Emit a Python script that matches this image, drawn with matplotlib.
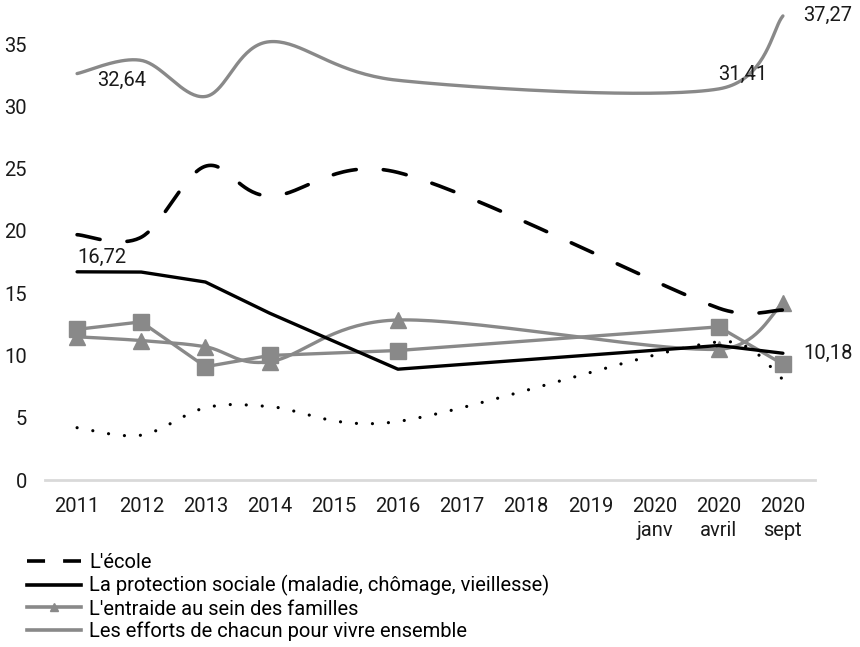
import numpy as np
import matplotlib
matplotlib.use('Agg')
import matplotlib.pyplot as plt
from matplotlib.lines import Line2D

plt.rcParams['font.family'] = ['Roboto', 'DejaVu Sans']

nan = np.nan
categories = ['2011', '2012', '2013', '2014', '2015', '2016', '2017', '2018',
              '2019', '2020\njanv', '2020\navril', '2020\nsept']

# values (missing years -> nan, lines bridge the gaps)
ecole = [19.7, 19.5, 25.2, 22.8, nan, 24.7, nan, nan, nan, nan, 13.8, 13.65]
protection = [16.72, 16.7, 15.9, 13.4, nan, 8.9, nan, nan, nan, nan, 10.8, 10.18]
entraide = [11.5, 11.2, 10.7, 9.5, nan, 12.85, nan, nan, nan, nan, 10.5, 14.2]
efforts = [32.64, 33.7, 30.8, 35.2, nan, 32.1, nan, nan, nan, nan, 31.41, 37.27]
serie_carres = [12.1, 12.7, 9.1, 10.0, nan, 10.4, nan, nan, nan, nan, 12.3, 9.3]
serie_points = [4.2, 3.6, 5.8, 5.9, nan, 4.7, nan, nan, nan, nan, 11.1, 8.1]

GRAY = '#898989'
FS = 14.5
# rough pixel size of one x category and one y unit, used to keep the
# bezier handles from overshooting on short segments
PX_X, PX_Y = 64.0, 12.45


def valid(vals):
    x = np.arange(len(vals))
    y = np.array(vals, dtype=float)
    ok = ~np.isnan(y)
    return x[ok].astype(float), y[ok]


def excel_smooth(xs, ys, n=40, cap=0.5):
    # bezier smoothing like the spreadsheet "smoothed line" option
    scale = np.array([PX_X, PX_Y])
    pts = np.column_stack([xs, ys]) * scale
    out = []
    for i in range(len(pts) - 1):
        p0 = pts[max(i - 1, 0)]
        p1 = pts[i]
        p2 = pts[i + 1]
        p3 = pts[min(i + 2, len(pts) - 1)]
        seg_len = np.hypot(*(p2 - p1))
        d1 = (p2 - p0) / 6
        d2 = (p3 - p1) / 6
        for d in (d1, d2):
            ln = np.hypot(*d)
            if ln > cap * seg_len:
                d *= cap * seg_len / ln
        c1 = p1 + d1
        c2 = p2 - d2
        t = np.linspace(0, 1, n)[:, None]
        seg = (1 - t) ** 3 * p1 + 3 * (1 - t) ** 2 * t * c1 + 3 * (1 - t) * t ** 2 * c2 + t ** 3 * p2
        out.append(seg if i == 0 else seg[1:])
    out = np.vstack(out) / scale
    return out[:, 0], out[:, 1]


fig = plt.figure(figsize=(8.6, 6.47), dpi=100)
ax = fig.add_axes([45 / 860, (647 - 480) / 647, 770 / 860, 480 / 647])

# dotted series (not in legend)
x, y = valid(serie_points)
sx, sy = excel_smooth(x, y)
ax.plot(sx, sy, color='black', lw=2.3, linestyle=(0, (0.01, 5)),
        dash_capstyle='round', solid_capstyle='round')

# square markers series (not in legend)
x, y = valid(serie_carres)
ax.plot(x, y, color=GRAY, lw=2.4, marker='s', markersize=11)

# entraide, smoothed with triangles
x, y = valid(entraide)
sx, sy = excel_smooth(x, y)
ax.plot(sx, sy, color=GRAY, lw=2.4, solid_capstyle='round')
ax.plot(x, y, linestyle='none', marker='^', markersize=11, color=GRAY)

# efforts, smoothed
x, y = valid(efforts)
sx, sy = excel_smooth(x, y)
ax.plot(sx, sy, color=GRAY, lw=2.4, solid_capstyle='round')

# protection sociale, straight
x, y = valid(protection)
ax.plot(x, y, color='black', lw=2.4, solid_capstyle='round')

# ecole, smoothed dashed
x, y = valid(ecole)
sx, sy = excel_smooth(x, y)
ax.plot(sx, sy, color='black', lw=2.6, linestyle=(0, (6.5, 7.5)), dash_capstyle='round')

# data labels
lab_kw = dict(fontsize=FS, ha='center', va='center', color='#1a1a1a')
ax.text(0.69, 32.1, '32,64', **lab_kw)
ax.text(0.38, 17.9, '16,72', **lab_kw)
ax.text(10.37, 32.6, '31,41', **lab_kw)
ax.text(11.7, 37.3, '37,27', **lab_kw)
ax.text(11.7, 10.2, '10,18', **lab_kw)

ax.set_xlim(-0.5, 11.5)
ax.set_ylim(0, 38.55)
ax.set_xticks(range(len(categories)))
ax.set_xticklabels(categories, fontsize=FS, color='#1a1a1a', linespacing=1.35)
ax.set_yticks(range(0, 40, 5))
ax.tick_params(axis='both', length=0, labelsize=FS, labelcolor='#1a1a1a')
ax.tick_params(axis='x', pad=12)
ax.tick_params(axis='y', pad=13)
for s in ['top', 'right', 'left']:
    ax.spines[s].set_visible(False)
ax.spines['bottom'].set_color('#d9d9d9')
ax.spines['bottom'].set_linewidth(2)
ax.patch.set_alpha(0)

handles = [
    Line2D([], [], color='black', lw=2.6, linestyle=(0, (5, 5))),
    Line2D([], [], color='black', lw=2.6),
    Line2D([], [], color=GRAY, lw=2.6, marker='^', markersize=6),
    Line2D([], [], color=GRAY, lw=2.6),
]
labels = ["L'école",
          'La protection sociale (maladie, chômage, vieillesse)',
          "L'entraide au sein des familles",
          'Les efforts de chacun pour vivre ensemble']
fig.legend(handles, labels, loc='upper left', bbox_to_anchor=(27 / 860, 1 - 553 / 647),
           frameon=False, fontsize=FS, handlelength=2.7, handletextpad=0.4,
           labelspacing=0.16, borderpad=0, borderaxespad=0)

fig.savefig('out.png', dpi=100)
